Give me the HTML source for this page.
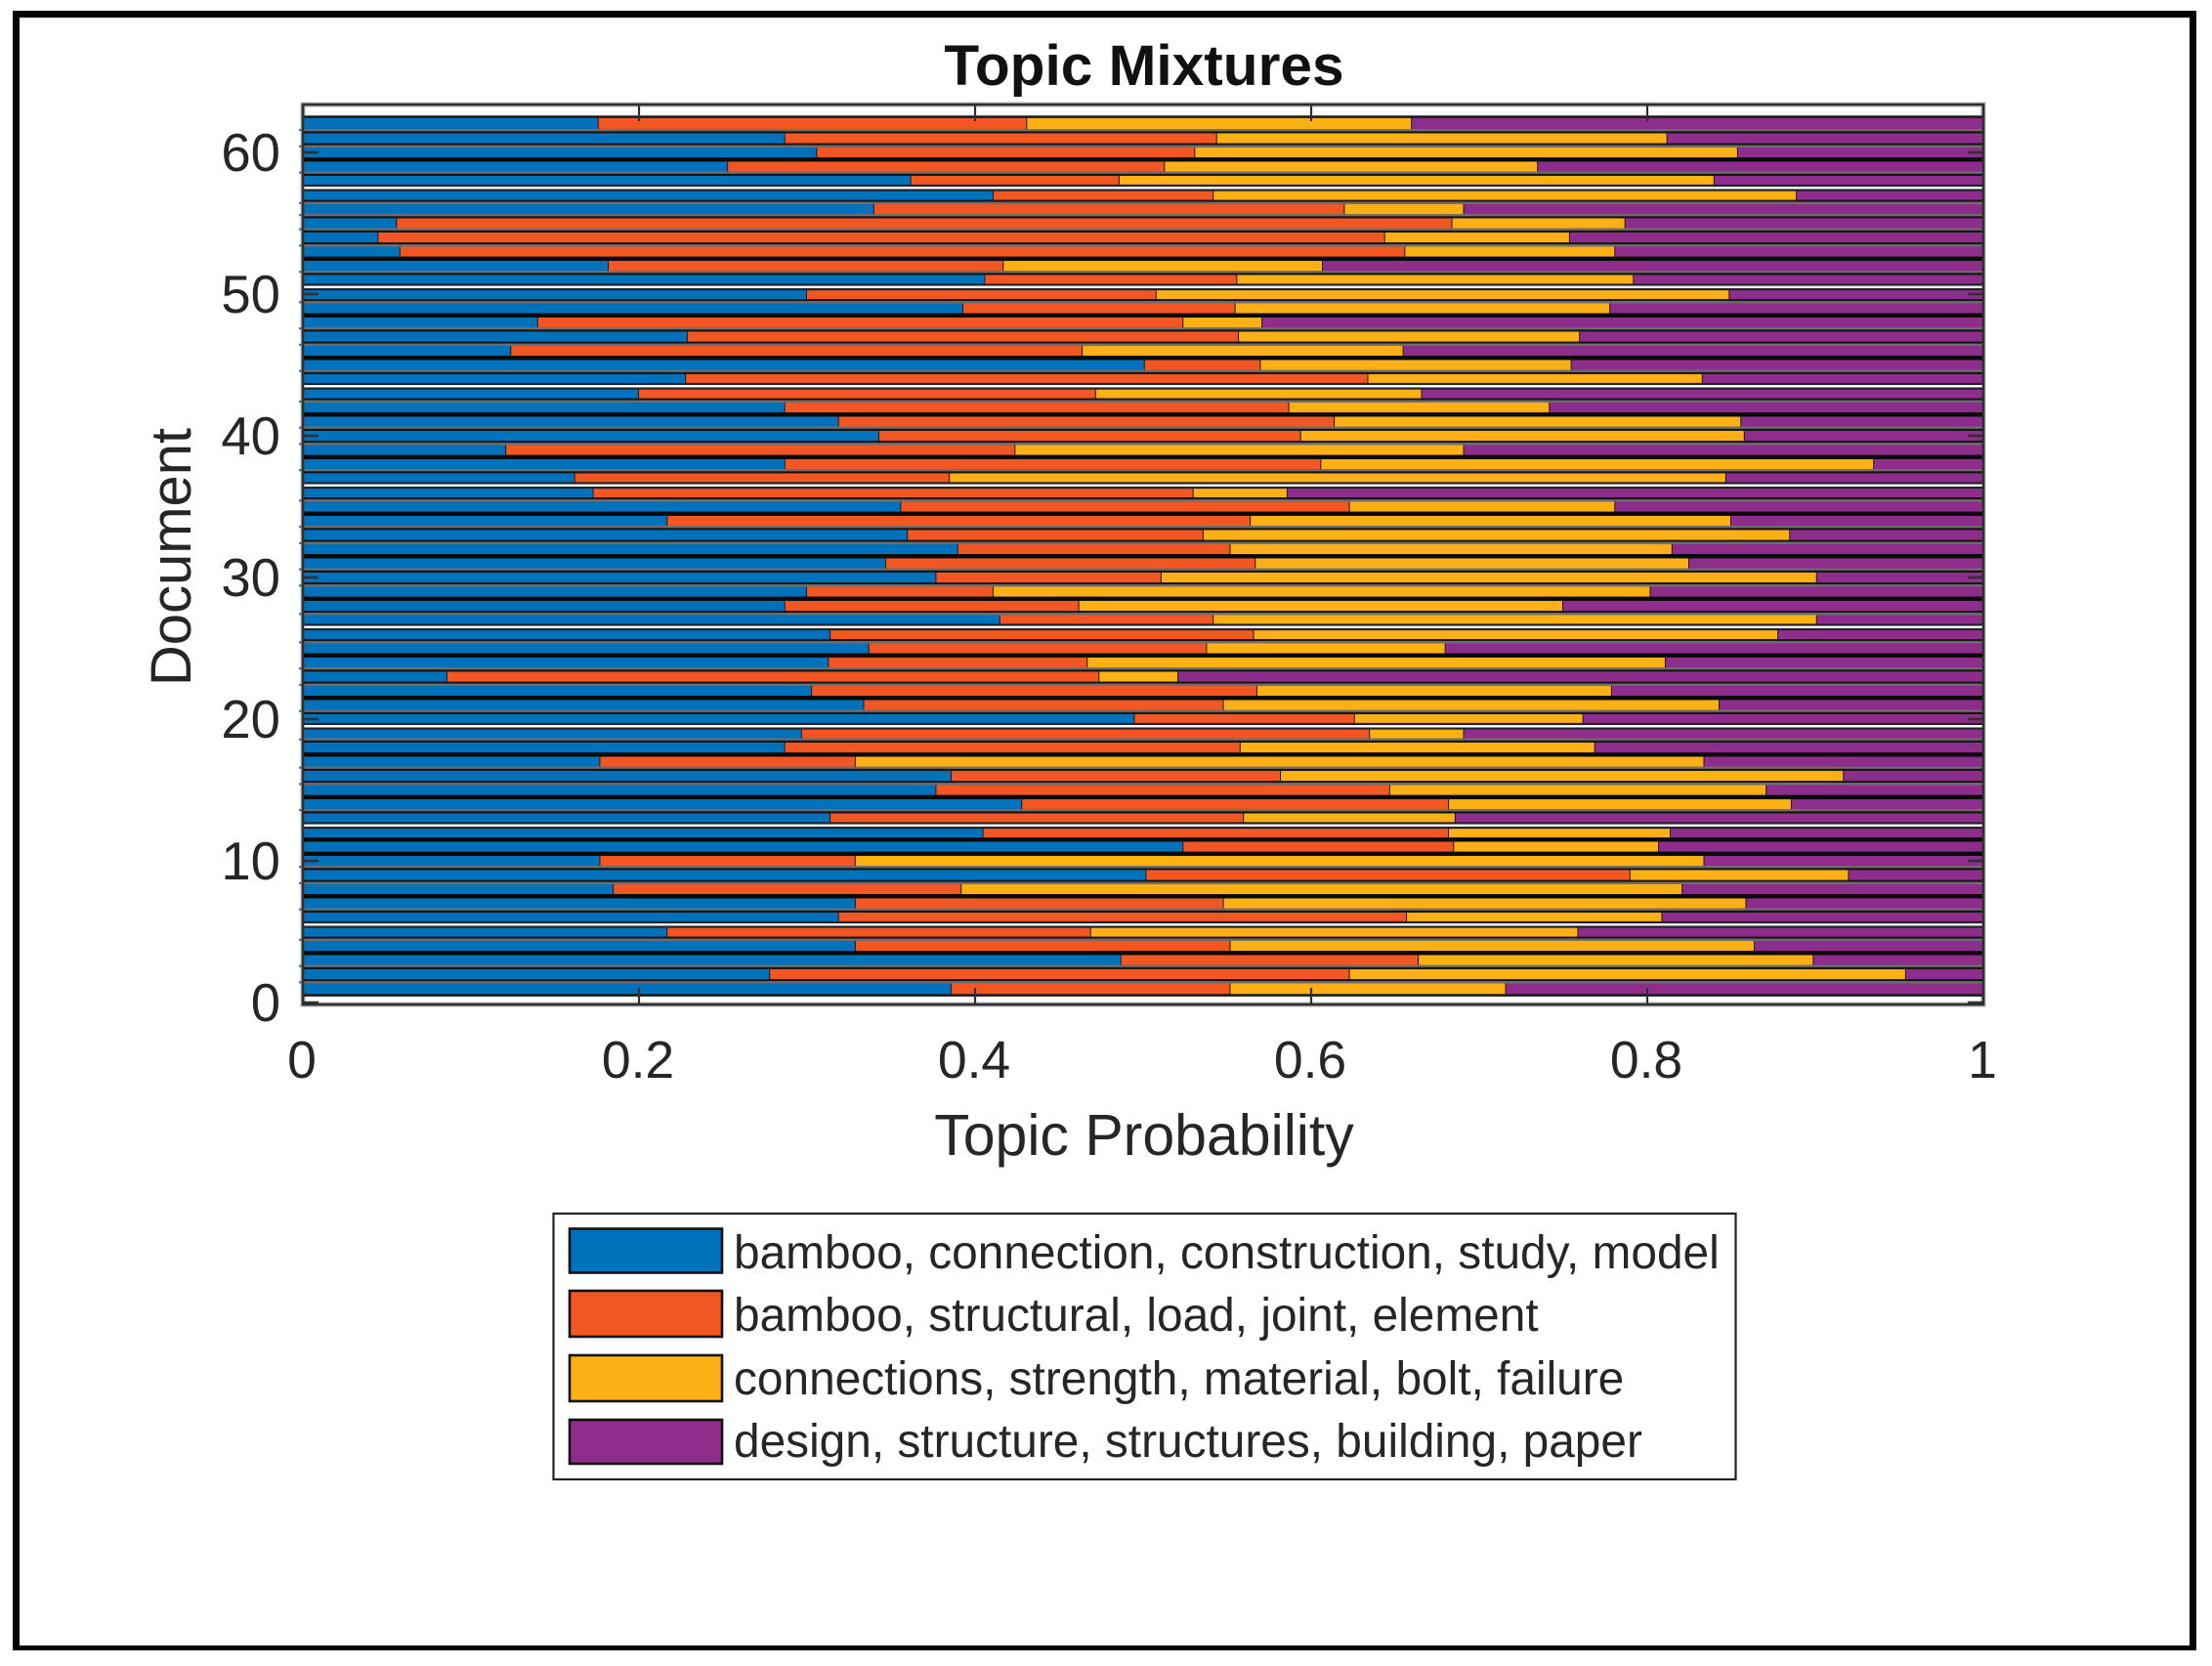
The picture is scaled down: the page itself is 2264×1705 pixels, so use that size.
<!DOCTYPE html>
<html lang="en">
<head>
<meta charset="utf-8">
<title>Topic Mixtures</title>
<style>
html, body { margin: 0; padding: 0; background: #fff; }
body { width: 2264px; height: 1705px; position: relative; overflow: hidden; }
#outer-frame { position: absolute; left: 13px; top: 11px; width: 2235px; height: 1678px; box-sizing: border-box;
  border: 7px solid #050505; border-bottom-width: 5px; }
#figure { position: absolute; left: 0; top: 0; }
text { font-family: "Liberation Sans", Arial, sans-serif; fill: #262626; }
</style>
</head>
<body>
<div id="outer-frame"></div>
<svg id="figure" width="2264" height="1705" viewBox="0 0 2264 1705" xmlns="http://www.w3.org/2000/svg">
  <text x="1171" y="87" text-anchor="middle" font-size="58.6" font-weight="bold" style="fill:#111">Topic Mixtures</text>
  <rect x="310" y="107" width="1720" height="921" fill="#fff" stroke="#b5b5b5" stroke-width="5"></rect>
  <g id="bars"></g>
  <g id="seams"></g>
  <rect x="310" y="107" width="1720" height="921" fill="none" stroke="#303030" stroke-width="2.6"></rect>
  <g id="ticks"></g>
  <text x="1171" y="1182" text-anchor="middle" font-size="59">Topic Probability</text>
  <text transform="translate(195 570) rotate(-90)" text-anchor="middle" font-size="58">Document</text>

  <g>
    <rect x="566.5" y="1242" width="1210" height="272" fill="#fff" stroke="#222" stroke-width="2.2"></rect>
    <g>
      <rect x="583" y="1257.5" width="156" height="45" fill="#0072bc" stroke="#111" stroke-width="2.6"></rect>
      <text x="751" y="1298" font-size="47.8">bamboo, connection, construction, study, model</text>
    </g>
    <g>
      <rect x="583" y="1321" width="156" height="47" fill="#f15623" stroke="#111" stroke-width="2.6"></rect>
      <text x="751" y="1362" font-size="47.8">bamboo, structural, load, joint, element</text>
    </g>
    <g>
      <rect x="583" y="1387" width="156" height="47" fill="#fdb015" stroke="#111" stroke-width="2.6"></rect>
      <text x="751" y="1427" font-size="47.8">connections, strength, material, bolt, failure</text>
    </g>
    <g>
      <rect x="583" y="1453" width="156" height="45" fill="#8e2d8c" stroke="#111" stroke-width="2.6"></rect>
      <text x="751" y="1491" font-size="47.8">design, structure, structures, building, paper</text>
    </g>
  </g>
</svg>
<script>
// Topic probabilities, one value per document, document 1 first.
const topicConnection = [.386,.278,.487,.329,.217,.319,.329,.185,.502,.177,.524,.405,.314,.428,.377,.386,.177,.287,.297,.495,.334,.303,.086,.313,.337,.314,.415,.287,.300,.377,.347,.390,.360,.217,.356,.173,.162,.287,.121,.343,.319,.287,.200,.228,.501,.124,.229,.140,.393,.300,.406,.182,.058,.045,.056,.340,.411,.362,.253,.306,.287,.176];
const topicStructural = [.166,.345,.177,.223,.252,.338,.219,.207,.288,.152,.161,.277,.246,.254,.270,.196,.152,.271,.338,.131,.214,.265,.388,.154,.201,.252,.127,.175,.111,.134,.220,.162,.176,.347,.267,.357,.223,.319,.303,.251,.295,.300,.272,.406,.069,.340,.328,.384,.162,.208,.150,.235,.598,.599,.628,.280,.131,.124,.260,.225,.257,.255];
const topicStrength = [.164,.331,.235,.312,.290,.152,.311,.429,.130,.505,.122,.132,.126,.204,.224,.335,.505,.211,.056,.136,.295,.211,.047,.344,.142,.312,.359,.288,.391,.390,.258,.263,.349,.286,.158,.056,.462,.329,.267,.264,.242,.155,.194,.199,.185,.191,.203,.047,.223,.341,.236,.190,.125,.110,.103,.071,.347,.354,.222,.323,.268,.229];
const topicDesign = [.284,.046,.101,.136,.242,.191,.141,.179,.080,.166,.193,.186,.314,.114,.129,.083,.166,.231,.309,.238,.157,.221,.479,.190,.321,.122,.099,.250,.199,.099,.175,.185,.114,.150,.219,.414,.153,.065,.309,.142,.144,.259,.335,.167,.245,.345,.240,.429,.222,.151,.208,.393,.219,.246,.213,.309,.111,.160,.266,.147,.188,.340];
const xTickValues = [0, 0.2, 0.4, 0.6, 0.8, 1];
const xTickLabels = ["0", "0.2", "0.4", "0.6", "0.8", "1"];
const yTickValues = [0, 10, 20, 30, 40, 50, 60];
const yTickLabels = ["0", "10", "20", "30", "40", "50", "60"];

const series = [topicConnection, topicStructural, topicStrength, topicDesign];
const seriesColors = ["#0072bc", "#f15623", "#fdb015", "#8e2d8c"];
const seriesNames = ["connection", "structural", "strength", "design"];
// Resampling look of the seam between neighbouring bars, reading from the top bar down.
const seamTones = "ghkgwhgghkgwhkghkgwh" + "kghkgwhkghkghkhwhkgh" + "kgwgkghkgwkkghkgwhkgh";

const plotLeft = 310, plotRight = 2030, zeroY = 1026, unitY = 14.5;
function xScale(v) { return plotLeft + v * (plotRight - plotLeft); }
function yScale(v) { return zeroY - v * unitY; }
const NS = "http://www.w3.org/2000/svg";
function make(tag, parent, attrs) {
  const node = document.createElementNS(NS, tag);
  for (const k in attrs) node.setAttribute(k, attrs[k]);
  parent.appendChild(node);
  return node;
}

const barsGroup = document.getElementById("bars");
const seamsGroup = document.getElementById("seams");
const ticksGroup = document.getElementById("ticks");
const docCount = topicConnection.length;
const pitch = unitY;

for (let d = 0; d < docCount; d++) {
  const doc = d + 1;
  const cy = yScale(doc);
  let cum = 0;
  const row = make("g", barsGroup, {});
  
  
  for (let s = 0; s < series.length; s++) {
    const start = cum;
    cum += series[s][d];
    const x0 = xScale(start);
    const x1 = s === series.length - 1 ? plotRight : xScale(cum);
    const seg = make("rect", row, { x: x0, y: cy - pitch / 2, width: Math.max(0, x1 - x0), height: pitch, fill: seriesColors[s] });
    
    
    if (s < series.length - 1) {
      const div = make("rect", row, { x: x1 - 1, y: cy - pitch / 2, width: 2, height: pitch, fill: "#1a1a1a" });
      
      
    }
  }
}

function seamRect(x, y, w, h, fill) {
  const r = make("rect", seamsGroup, { x: x, y: y, width: w, height: h, fill: fill });
  
  
}
const seamHeight = 4.4;
const seamLeft = 306, seamWidth = plotRight - seamLeft;
for (let d = docCount - 1; d > 0; d--) {
  const i = docCount - 1 - d;
  const tone = seamTones[i % seamTones.length];
  const cy = (yScale(d + 1) + yScale(d)) / 2;
  const top = cy - seamHeight / 2;
  if (tone === "k") {
    seamRect(seamLeft + 4, top, seamWidth - 4, seamHeight, "#0a0a0a");
  } else if (tone === "g") {
    seamRect(seamLeft, top, seamWidth, seamHeight / 2, "#6e6e6e");
    seamRect(seamLeft + 4, top + seamHeight / 2, seamWidth - 4, seamHeight / 2, "#151515");
  } else if (tone === "h") {
    seamRect(seamLeft + 4, top, seamWidth - 4, seamHeight / 2, "#151515");
    seamRect(seamLeft, top + seamHeight / 2, seamWidth, seamHeight / 2, "#6e6e6e");
  } else {
    seamRect(plotLeft, cy - 3.4, plotRight - plotLeft, 6.8, "#20242a");
    seamRect(plotLeft, cy - 1.2, plotRight - plotLeft, 2.4, "#ffffff");
  }
}
// outer edge lines of the stack
const stackTop = make("rect", seamsGroup, { x: plotLeft, y: yScale(docCount) - pitch / 2 - 1.5, width: plotRight - plotLeft, height: 2.6, fill: "#1a1a1a" });


const stackBottom = make("rect", seamsGroup, { x: plotLeft, y: yScale(1) + pitch / 2 - 1.5, width: plotRight - plotLeft, height: 2.6, fill: "#1a1a1a" });



xTickValues.forEach(function (v, i) {
  const x = xScale(v);
  const top = make("line", ticksGroup, { x1: x, x2: x, y1: 107, y2: 124, stroke: "#303030", "stroke-width": 2.2 });
  
  
  const bottom = make("line", ticksGroup, { x1: x, x2: x, y1: 1028, y2: 1011, stroke: "#303030", "stroke-width": 2.2 });
  
  
  const label = make("text", ticksGroup, { x: x - 1, y: 1103, "text-anchor": "middle", "font-size": 53.5 });
  label.textContent = xTickLabels[i];
  
  
});

yTickValues.forEach(function (v, i) {
  const y = yScale(v);
  const left = make("line", ticksGroup, { x1: 310, x2: 326, y1: y, y2: y, stroke: "#303030", "stroke-width": 2.6 });
  
  
  const right = make("line", ticksGroup, { x1: 2030, x2: 2014, y1: y, y2: y, stroke: "#303030", "stroke-width": 2.6 });
  
  
  const label = make("text", ticksGroup, { x: 287, y: y + 19, "text-anchor": "end", "font-size": 54.5 });
  label.textContent = yTickLabels[i];
  
  
});
</script>
</body>
</html>
